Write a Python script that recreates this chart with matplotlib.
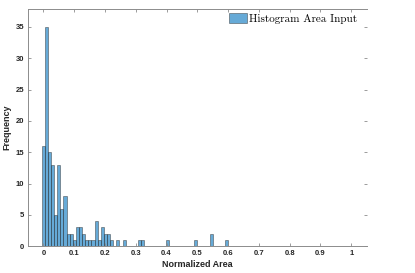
import matplotlib
matplotlib.use("Agg")
import matplotlib.pyplot as plt
import numpy as np

# histogram bin counts (bin width ~0.0101, first edge ~ -0.0055)
bin_start = -0.0055
bin_width = 0.0101
counts = [16, 35, 15, 13, 5, 13, 6, 8, 2, 2,
          1, 3, 3, 2, 1, 1, 1, 4, 1, 3,
          2, 2, 1, 0, 1, 0, 1, 0, 0, 0,
          0, 1, 1, 0, 0, 0, 0, 0, 0, 0,
          1, 0, 0, 0, 0, 0, 0, 0, 0, 1,
          0, 0, 0, 0, 2, 0, 0, 0, 0, 1]
xticks = [0, 0.1, 0.2, 0.3, 0.4, 0.5, 0.6, 0.7, 0.8, 0.9, 1]
xticklabels = ["0", "0.1", "0.2", "0.3", "0.4", "0.5", "0.6", "0.7", "0.8", "0.9", "1"]
yticks = [0, 5, 10, 15, 20, 25, 30, 35]

edges = bin_start + bin_width * np.arange(len(counts) + 1)

fig = plt.figure(figsize=(4.15, 2.73), dpi=100)
ax = fig.add_axes([0.0675, 0.098, 0.816, 0.87])

ax.bar(edges[:-1], counts, width=bin_width, align="edge",
       color=(0, 0.447, 0.741), alpha=0.6, edgecolor="#262626",
       linewidth=0.5, label="Histogram Area Input")

ax.set_xlim(-0.05, 1.05)
ax.set_ylim(0, 37.9)
ax.set_xticks(xticks)
ax.set_xticklabels(xticklabels)
ax.set_yticks(yticks)

axcol = "#8c8c8c"
for side in ["left", "bottom", "top"]:
    ax.spines[side].set_color(axcol)
    ax.spines[side].set_linewidth(0.7)
ax.spines["right"].set_visible(False)
ax.tick_params(direction="in", length=2.5, width=0.6, color=axcol,
               top=True, right=True, labelsize=5.5, pad=3,
               labelcolor="#262626")
for lbl in ax.get_xticklabels() + ax.get_yticklabels():
    lbl.set_fontweight("bold")
    lbl.set_family("Liberation Sans")

ax.set_xlabel("Normalized Area", fontsize=6.5, fontweight="bold",
              family="Liberation Sans", color="#262626", labelpad=2)
ax.set_ylabel("Frequency", fontsize=6.5, fontweight="bold",
              family="Liberation Sans", color="#262626", labelpad=3)

ax.legend(loc="upper right", frameon=False, prop={"family": "cmr10", "size": 8},
          handlelength=1.7, handleheight=1.0, handletextpad=0.15,
          borderaxespad=0.3, bbox_to_anchor=(0.995, 1.015))

fig.savefig("out.png", dpi=100)
